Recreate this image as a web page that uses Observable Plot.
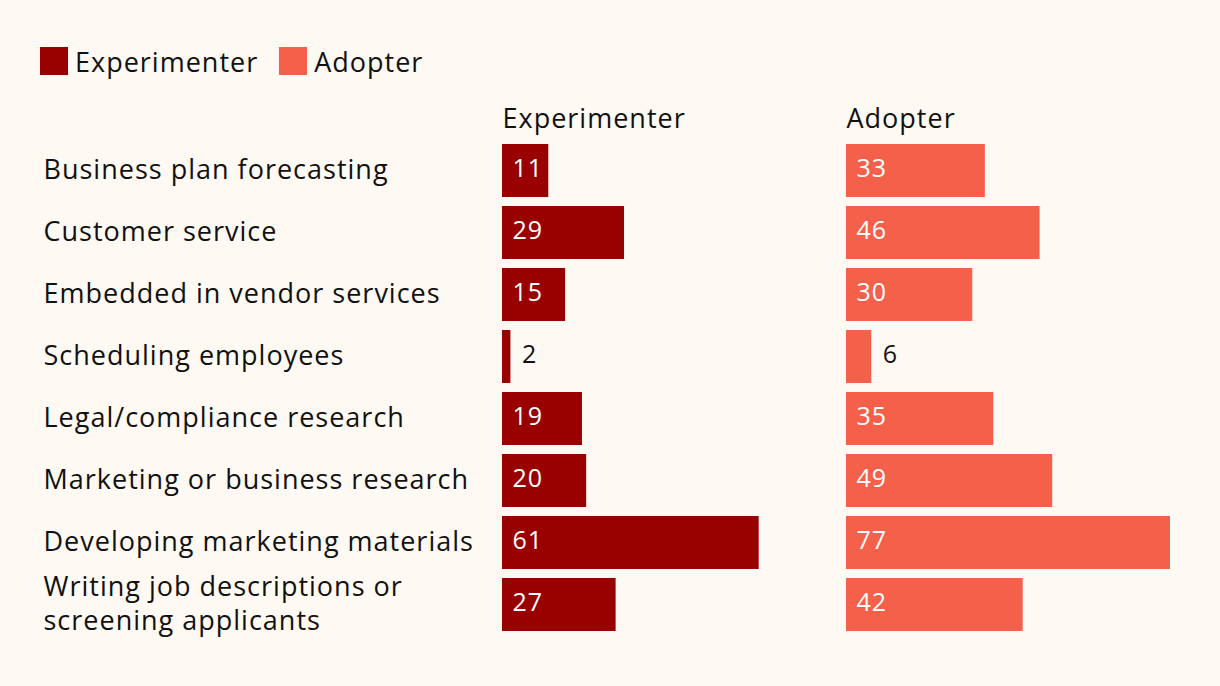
<!DOCTYPE html>
<html>
<head>
<meta charset="utf-8">
<script src="https://cdn.jsdelivr.net/npm/d3@7"></script>
<script src="https://cdn.jsdelivr.net/npm/@observablehq/plot@0.6"></script>
<style>
  html, body { margin: 0; padding: 0; background: #fef9f2; }
  body { width: 1220px; height: 686px; overflow: hidden; font-family: "Open Sans", sans-serif; color: #111; }
  #legend { box-sizing: border-box; height: 88px; padding: 47px 0 0 40px; display: flex; align-items: flex-start; font-size: 27px; letter-spacing: 1px; }
  #legend .item { display: flex; align-items: center; margin-right: 21px; height: 28px; }
  #legend .sw { width: 28px; height: 28px; margin-right: 7px; }
  #chart svg { display: block; }
  #chart svg text { letter-spacing: 1px; }
</style>
</head>
<body>
<div id="legend"></div>
<div id="chart"></div>
<script>
const categories = [
  "Business plan forecasting",
  "Customer service",
  "Embedded in vendor services",
  "Scheduling employees",
  "Legal/compliance research",
  "Marketing or business research",
  "Developing marketing materials",
  "Writing job descriptions or screening applicants"
];
const series = ["Experimenter", "Adopter"];
const experimenter = [11, 29, 15, 2, 19, 20, 61, 27];
const adopter = [33, 46, 30, 6, 35, 49, 77, 42];
const colors = ["#990000", "#f5604b"];
const labelLines = {"Writing job descriptions or screening applicants": "Writing job descriptions or\nscreening applicants"};

const data = [];
categories.forEach((c, i) => {
  data.push({category: c, series: "Experimenter", value: experimenter[i]});
  data.push({category: c, series: "Adopter", value: adopter[i]});
});

const legend = document.getElementById("legend");
series.forEach((s, i) => {
  const it = document.createElement("div");
  it.className = "item";
  it.innerHTML = `<div class="sw" style="background:${colors[i]}"></div><span>${s}</span>`;
  legend.appendChild(it);
});

const small = d => d.value < 8;
const FONT = "'Open Sans', sans-serif";

const chart = Plot.plot({
  width: 1220,
  height: 598,
  marginLeft: 502,
  marginRight: 50,
  marginTop: 47,
  marginBottom: 46,
  style: {background: "transparent", fontFamily: FONT, color: "#111"},
  fx: {domain: series, paddingInner: 20 / 344, paddingOuter: 0, axis: null},
  x: {domain: [0, 77], axis: null},
  y: {domain: categories, padding: 0.145},
  color: {domain: series, range: colors},
  marks: [
    Plot.barX(data, {fx: "series", y: "category", x: "value", fill: "series"}),
    Plot.text(data.filter(d => !small(d)), {fx: "series", y: "category", x: 0, text: d => String(d.value), textAnchor: "start", dx: 10, dy: -2, fill: "white", fontSize: 25}),
    Plot.text(data.filter(small), {fx: "series", y: "category", x: "value", text: d => String(d.value), textAnchor: "start", dx: 11, dy: -2, fill: "#111", fontSize: 25}),
    Plot.text(series, {fx: d => d, text: d => d, frameAnchor: "top-left", textAnchor: "start", dy: -27, fill: "#111", fontSize: 27}),
    Plot.axisY({tickSize: 0, tickPadding: 0, textAnchor: "start", dx: -459, dy: -3, fontSize: 27, lineHeight: 1.25, fill: "#111", label: null, tickFormat: d => labelLines[d] || d})
  ]
});
document.getElementById("chart").appendChild(chart);
</script>
</body>
</html>
